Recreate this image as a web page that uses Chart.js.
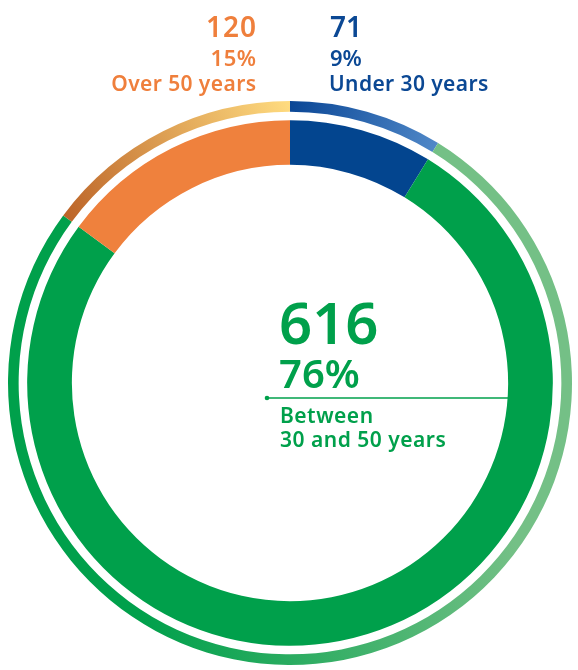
<!DOCTYPE html>
<html>

<head>
    <meta charset="UTF-8">
    <title>Employees by age group</title>
    <script src="https://cdn.jsdelivr.net/npm/chart.js@4.4.1/dist/chart.umd.min.js"></script>
    <style>
        body {
            margin: 0;
            background: #fff;
            font-family: "Noto Sans", sans-serif;
        }

        #wrap {
            position: relative;
            width: 578px;
            height: 670px;
        }

        .lbl {
            position: absolute;
            line-height: 1;
            white-space: nowrap;
            font-weight: 600;
        }
    </style>
</head>

<body>
    <div id="wrap">
        <canvas id="ageChart" width="578" height="670"></canvas>
    </div>

    <script>
        const groups = ["Under 30 years", "Between 30 and 50 years", "Over 50 years"];
        const groupLines = [["Under 30 years"], ["Between", "30 and 50 years"], ["Over 50 years"]];
        const counts = [71, 616, 120];
        const solidColors = ["#03458F", "#00A04B", "#EF813D"];
        const textColors = ["#0B4894", "#00A04B", "#EF7F3C"];
        // outer ring shades, from the start of each arc to its end (clockwise)
        const ringShades = [["#0A4695", "#5088C8"], ["#74C086", "#00A04B"], ["#BC6428", "#FFDC80"]];

        const total = counts.reduce((a, b) => a + b, 0);
        const pct = counts.map(v => Math.round(v / total * 100) + "%");

        const CX = 290, CY = 383, R = 282, HOLE = 222;

        function arcPoint(a, r) {
            return [CX + r * Math.sin(a), CY - r * Math.cos(a)];
        }

        function outerColor(context) {
            const chart = context.chart;
            if (!chart.chartArea) return solidColors[context.dataIndex];
            const i = context.dataIndex;
            let before = 0;
            for (let k = 0; k < i; k++) before += counts[k];
            const a0 = before / total * 2 * Math.PI;
            const a1 = (before + counts[i]) / total * 2 * Math.PI;
            const p0 = arcPoint(a0, R), p1 = arcPoint(a1, R);
            const g = chart.ctx.createLinearGradient(p0[0], p0[1], p1[0], p1[1]);
            g.addColorStop(0, ringShades[i][0]);
            g.addColorStop(1, ringShades[i][1]);
            return g;
        }

        // pointer line from the middle label out to the ring
        const pointerLine = {
            id: "pointerLine",
            afterDraw(chart) {
                const ctx = chart.ctx;
                const y = CY + 15;
                const x0 = CX - 23;
                const x1 = CX + Math.sqrt(HOLE * HOLE - 15 * 15);
                ctx.save();
                ctx.strokeStyle = textColors[1];
                ctx.fillStyle = textColors[1];
                ctx.lineWidth = 1.3;
                ctx.beginPath();
                ctx.moveTo(x0, y);
                ctx.lineTo(x1, y);
                ctx.stroke();
                ctx.beginPath();
                ctx.arc(x0, y, 2.3, 0, Math.PI * 2);
                ctx.fill();
                ctx.restore();
            }
        };

        new Chart(document.getElementById("ageChart"), {
            type: "doughnut",
            data: {
                labels: groups,
                datasets: [
                    { data: counts, weight: 10, backgroundColor: outerColor, borderWidth: 0 },
                    { data: counts, weight: 8, backgroundColor: "rgba(0,0,0,0)", borderWidth: 0 },
                    { data: counts, weight: 42, backgroundColor: solidColors, borderWidth: 0 }
                ]
            },
            options: {
                responsive: false,
                animation: false,
                radius: R,
                cutout: HOLE,
                layout: { padding: { top: 96, bottom: 0, left: 2, right: 0 } },
                events: [],
                plugins: {
                    legend: { display: false },
                    tooltip: { enabled: false }
                }
            },
            plugins: [pointerLine]
        });

        // text labels; baseline positions, Noto Sans baseline sits at 0.888em with line-height 1
        const wrap = document.getElementById("wrap");
        function place(text, x, baseline, size, color, align, spacing) {
            const d = document.createElement("div");
            d.className = "lbl";
            d.textContent = text;
            d.style.fontSize = size + "px";
            d.style.color = color;
            d.style.letterSpacing = (spacing || 0) + "px";
            d.style.top = (baseline - 0.888 * size) + "px";
            if (align === "right") {
                d.style.right = (578 - x - (spacing || 0)) + "px";
                d.style.textAlign = "right";
            } else {
                d.style.left = x + "px";
            }
            wrap.appendChild(d);
        }

        // Over 50 years (top left)
        place(String(counts[2]), 256, 37, 28, textColors[2], "right", 1);
        place(pct[2], 256, 66, 22, textColors[2], "right", 0.5);
        place(groupLines[2][0], 256, 92, 21, textColors[2], "right", 0.4);

        // Under 30 years (top right)
        place(String(counts[0]), 330, 37, 28, textColors[0], "left");
        place(pct[0], 330, 66, 22, textColors[0], "left");
        place(groupLines[0][0], 329, 92, 21, textColors[0], "left", 0.4);

        // Between 30 and 50 years (middle)
        place(String(counts[1]), 279, 345, 58, textColors[1], "left");
        place(pct[1], 279, 389, 40, textColors[1], "left");
        place(groupLines[1][0], 280, 424, 21, textColors[1], "left", 0.5);
        place(groupLines[1][1], 280, 448, 21, textColors[1], "left", 0.5);
    </script>
</body>

</html>
